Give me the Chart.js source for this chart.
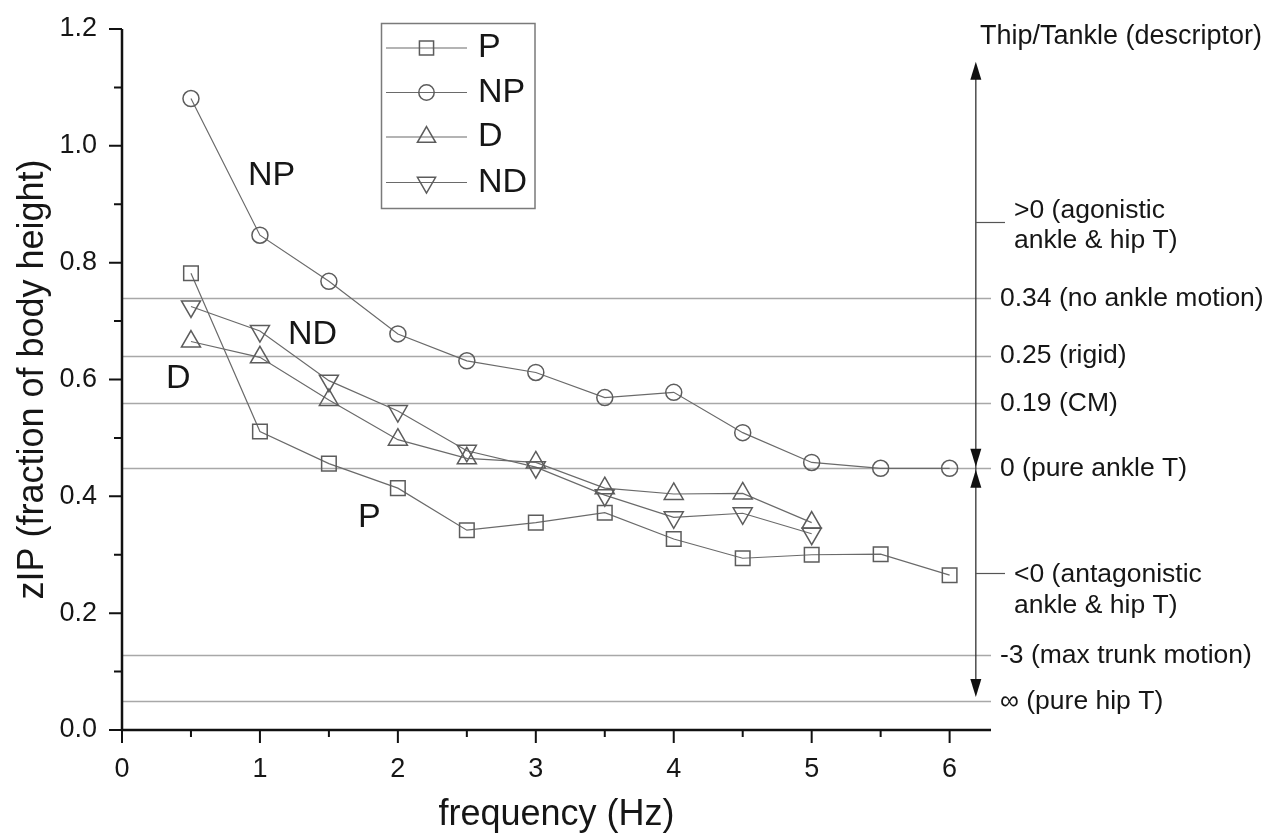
<!DOCTYPE html>
<html><head><meta charset="utf-8">
<script src="https://cdn.jsdelivr.net/npm/chart.js@4/dist/chart.umd.min.js"></script>
<style>html,body{margin:0;padding:0;background:#fff;}canvas{display:block;}</style>
</head><body>
<canvas id="c" width="1267" height="840"></canvas>
<script>
// ---- data ----
const frequencies = [0.5, 1, 1.5, 2, 2.5, 3, 3.5, 4, 4.5, 5, 5.5, 6];
const P  = [0.782, 0.511, 0.456, 0.414, 0.342, 0.355, 0.372, 0.327, 0.294, 0.300, 0.301, 0.265];
const NP = [1.081, 0.847, 0.768, 0.678, 0.632, 0.612, 0.569, 0.578, 0.509, 0.458, 0.448, 0.448];
const D  = [0.665, 0.638, 0.565, 0.497, 0.465, 0.458, 0.414, 0.404, 0.405, 0.355];
const ND = [0.725, 0.683, 0.598, 0.546, 0.478, 0.450, 0.402, 0.364, 0.371, 0.336];
const seriesNames = ['P', 'NP', 'D', 'ND'];
const xTickValues = [0, 1, 2, 3, 4, 5, 6];
const xTickLabels = ['0', '1', '2', '3', '4', '5', '6'];
const yTickValues = [0, 0.2, 0.4, 0.6, 0.8, 1.0, 1.2];
const yTickLabels = ['0.0', '0.2', '0.4', '0.6', '0.8', '1.0', '1.2'];
const descriptorLevels = [0.739, 0.640, 0.559, 0.448, 0.128, 0.049];
const descriptorLabels = ['0.34 (no ankle motion)', '0.25 (rigid)', '0.19 (CM)', '0 (pure ankle T)', '-3 (max trunk motion)', '\u221E (pure hip T)'];
const rangeLevels = [0.870, 0.268];
const rangeLabels = [['>0 (agonistic', 'ankle & hip T)'], ['<0 (antagonistic', 'ankle & hip T)']];
const descriptorTitle = 'Thip/Tankle (descriptor)';
const arrowX = 6.19;
const arrowTop = 1.144, arrowMid = 0.448, arrowBottom = 0.0565;
const xTitle = 'frequency (Hz)';
const yTitle = 'zIP (fraction of body height)';

const FONT = "'Liberation Sans', Arial, sans-serif";
const TXT = '#161616';
const LINE = '#6a6a6a';
const MARK = '#5c5c5c';

function pts(vals) { return vals.map((v, i) => ({ x: frequencies[i], y: v })); }

const styles = [
  { pointStyle: 'rect', r: 10.3, rot: 0 },
  { pointStyle: 'circle', r: 8, rot: 0 },
  { pointStyle: 'triangle', r: 11, rot: 0 },
  { pointStyle: 'triangle', r: 11, rot: 180 }
];
const seriesData = [P, NP, D, ND];

const datasets = seriesNames.map((name, k) => ({
  label: name,
  data: pts(seriesData[k]),
  showLine: true,
  borderColor: LINE,
  borderWidth: 1.2,
  pointStyle: styles[k].pointStyle,
  pointRadius: styles[k].r,
  pointRotation: styles[k].rot,
  pointBorderColor: MARK,
  pointBackgroundColor: 'rgba(0,0,0,0)',
  pointBorderWidth: 1.5,
  tension: 0,
  clip: false
}));

function drawMarker(ctx, style, x, y, r, rot) {
  ctx.beginPath();
  if (style === 'rect') {
    const s = r / Math.SQRT2;
    ctx.rect(x - s, y - s, 2 * s, 2 * s);
  } else if (style === 'circle') {
    ctx.arc(x, y, r, 0, Math.PI * 2);
  } else {
    const a = rot * Math.PI / 180;
    for (let i = 0; i < 3; i++) {
      const ang = a + i * 2 * Math.PI / 3;
      const px = x + Math.sin(ang) * r, py = y - Math.cos(ang) * r;
      if (i === 0) ctx.moveTo(px, py); else ctx.lineTo(px, py);
    }
    ctx.closePath();
  }
  ctx.stroke();
}

function arrowHead(ctx, x, tipY, dir) { // dir -1 up, +1 down
  const len = 18, hw = 5.5;
  ctx.beginPath();
  ctx.moveTo(x, tipY);
  ctx.lineTo(x - hw, tipY - dir * len);
  ctx.lineTo(x + hw, tipY - dir * len);
  ctx.closePath();
  ctx.fill();
}

const decor = {
  id: 'decor',
  beforeDatasetsDraw(chart) {
    const { ctx, chartArea: ca, scales: { y } } = chart;
    ctx.save();
    ctx.strokeStyle = '#a8a8a8';
    ctx.lineWidth = 1.5;
    descriptorLevels.forEach(v => {
      const py = Math.round(y.getPixelForValue(v)) + 0.5;
      ctx.beginPath(); ctx.moveTo(ca.left, py); ctx.lineTo(ca.right, py); ctx.stroke();
    });
    ctx.restore();
  },
  afterDatasetsDraw(chart) {
    const { ctx, chartArea: ca, scales: { x, y } } = chart;
    ctx.save();
    // axes
    ctx.strokeStyle = '#111'; ctx.lineWidth = 2.5;
    ctx.beginPath();
    ctx.moveTo(ca.left, ca.top); ctx.lineTo(ca.left, ca.bottom + 1.25);
    ctx.moveTo(ca.left - 1.25, ca.bottom); ctx.lineTo(ca.right, ca.bottom);
    ctx.stroke();
    ctx.lineWidth = 2;
    ctx.beginPath();
    yTickValues.forEach((v, i) => {
      const py = y.getPixelForValue(v);
      ctx.moveTo(ca.left - 13, py); ctx.lineTo(ca.left, py);
      if (i < yTickValues.length - 1) {
        const pm = y.getPixelForValue((v + yTickValues[i + 1]) / 2);
        ctx.moveTo(ca.left - 8, pm); ctx.lineTo(ca.left, pm);
      }
    });
    xTickValues.forEach((v, i) => {
      const px = x.getPixelForValue(v);
      ctx.moveTo(px, ca.bottom); ctx.lineTo(px, ca.bottom + 13);
      if (i < xTickValues.length - 1) {
        const pm = x.getPixelForValue((v + xTickValues[i + 1]) / 2);
        ctx.moveTo(pm, ca.bottom); ctx.lineTo(pm, ca.bottom + 7);
      }
    });
    ctx.stroke();

    // descriptor arrow
    const ax = x.getPixelForValue(arrowX);
    const yTop = y.getPixelForValue(arrowTop), yMid = y.getPixelForValue(arrowMid), yBot = y.getPixelForValue(arrowBottom);
    ctx.strokeStyle = '#333'; ctx.lineWidth = 1.3; ctx.fillStyle = '#111';
    ctx.beginPath(); ctx.moveTo(ax, yTop + 4); ctx.lineTo(ax, yBot - 4); ctx.stroke();
    arrowHead(ctx, ax, yTop, -1);
    arrowHead(ctx, ax, yMid - 1.5, 1);
    arrowHead(ctx, ax, yMid + 1.5, -1);
    arrowHead(ctx, ax, yBot, 1);

    // descriptor labels
    ctx.fillStyle = TXT;
    ctx.textBaseline = 'middle';
    ctx.textAlign = 'left';
    ctx.font = '27px ' + FONT;
    ctx.fillText(descriptorTitle, 980, 37);
    ctx.font = '26.5px ' + FONT;
    descriptorLevels.forEach((v, i) => {
      ctx.fillText(descriptorLabels[i], 1000, y.getPixelForValue(v));
    });
    ctx.strokeStyle = '#555'; ctx.lineWidth = 1.2;
    const offs = [[-12, 18], [1, 32]];
    rangeLevels.forEach((v, i) => {
      const py = Math.round(y.getPixelForValue(v)) + 0.5;
      ctx.beginPath(); ctx.moveTo(ax, py); ctx.lineTo(1005, py); ctx.stroke();
      ctx.fillText(rangeLabels[i][0], 1014, py + offs[i][0]);
      ctx.fillText(rangeLabels[i][1], 1014, py + offs[i][1]);
    });

    // in-plot series labels
    ctx.font = '34px ' + FONT;
    ctx.textBaseline = 'alphabetic';
    const lab = { NP: [248, 185], ND: [288, 344], D: [166, 388], P: [358, 527] };
    seriesNames.forEach(n => ctx.fillText(n, lab[n][0], lab[n][1]));

    // legend
    ctx.strokeStyle = '#7a7a7a'; ctx.lineWidth = 1.5;
    ctx.strokeRect(381.5, 23.5, 153.5, 185);
    const rows = [48, 92.5, 137, 182.5];
    seriesNames.forEach((n, k) => {
      const ry = rows[k];
      ctx.strokeStyle = LINE; ctx.lineWidth = 1.2;
      ctx.beginPath(); ctx.moveTo(386, ry); ctx.lineTo(467, ry); ctx.stroke();
      ctx.strokeStyle = MARK; ctx.lineWidth = 1.5;
      const st = styles[k];
      drawMarker(ctx, st.pointStyle, 426.5, ry, st.pointStyle === 'triangle' ? 10.5 : st.r - 0.3, st.rot);
      ctx.fillStyle = TXT; ctx.textBaseline = 'middle';
      ctx.fillText(n, 478, ry);
    });
    ctx.restore();
  }
};

new Chart(document.getElementById('c'), {
  type: 'scatter',
  data: { datasets },
  options: {
    responsive: false,
    devicePixelRatio: 1,
    animation: false,
    layout: { padding: { top: 29, right: 276, bottom: 0, left: 0 } },
    plugins: { legend: { display: false }, tooltip: { enabled: false } },
    scales: {
      x: {
        type: 'linear', min: 0, max: 6.3,
        afterBuildTicks: s => { s.ticks = xTickValues.map(v => ({ value: v })); },
        afterFit: s => { s.height = 110; s.paddingLeft = 0; s.paddingRight = 0; },
        grid: { display: false }, border: { display: false },
        ticks: { padding: 15, color: TXT, font: { family: FONT, size: 27 }, maxRotation: 0,
                 callback: (v, i) => xTickLabels[i] },
        title: { display: true, text: xTitle, color: TXT, font: { family: FONT, size: 36, lineHeight: 1.2 }, padding: { top: 0, bottom: 3 } }
      },
      y: {
        type: 'linear', min: 0, max: 1.2,
        afterBuildTicks: s => { s.ticks = yTickValues.map(v => ({ value: v })); },
        afterFit: s => { s.width = 122; s.paddingTop = 0; s.paddingBottom = 0; },
        grid: { display: false }, border: { display: false },
        ticks: { padding: 17, color: TXT, font: { family: FONT, size: 27 },
                 callback: (v, i) => yTickLabels[i] },
        title: { display: true, text: yTitle, color: TXT, font: { family: FONT, size: 36, lineHeight: 1.2 }, padding: { top: 11, bottom: 0 } }
      }
    }
  },
  plugins: [decor]
});
</script>
</body></html>
